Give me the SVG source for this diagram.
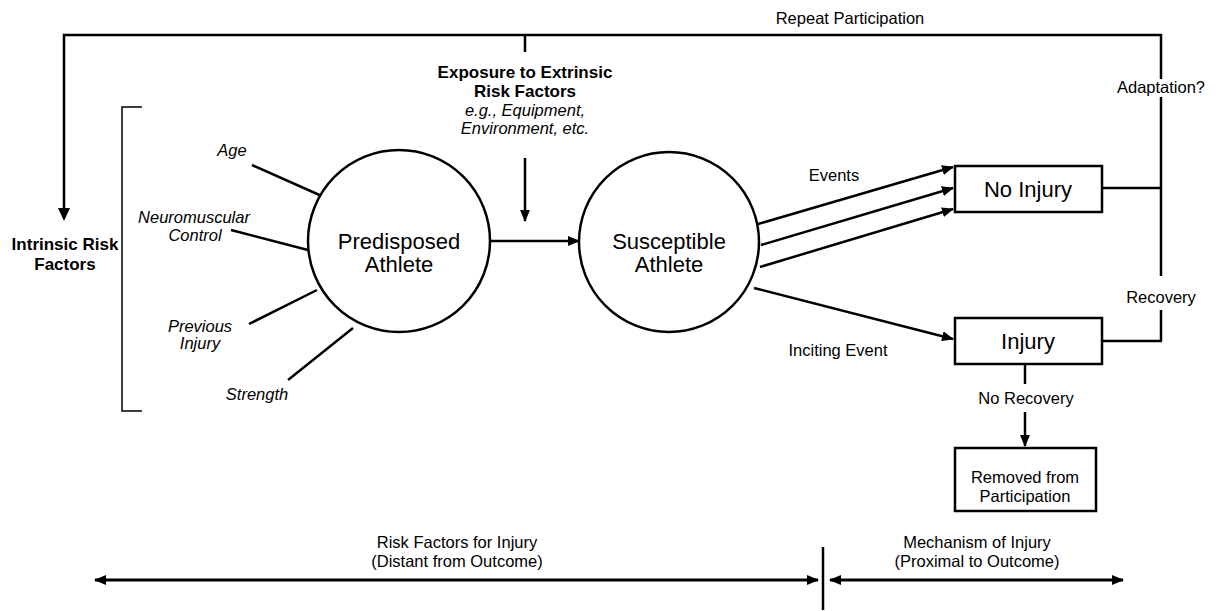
<svg xmlns="http://www.w3.org/2000/svg" width="1220" height="611" viewBox="0 0 1220 611">
  <style>
    text { font-family: "Liberation Sans", Arial, sans-serif; fill: #000; text-anchor: middle; }
    .lbl { font-size: 16.5px; }
    .it { font-size: 16.5px; font-style: italic; }
    .b { font-size: 17px; font-weight: bold; }
    .big { font-size: 22px; }
    .node { fill: #fff; stroke: #000; stroke-width: 2.5; }
    .ln { fill: none; stroke: #000; stroke-width: 2.5; }
    .thin { fill: none; stroke: #000; stroke-width: 1.5; }
    .arr { fill: none; stroke: #000; stroke-width: 2.5; marker-end: url(#ah); }
    .dbl { fill: none; stroke: #000; stroke-width: 3; marker-start: url(#ahs); marker-end: url(#ah); }
  </style>
  <defs>
    <marker id="ah" viewBox="0 0 12 10" refX="11" refY="5" markerWidth="12" markerHeight="10" markerUnits="userSpaceOnUse" orient="auto">
      <path d="M0,0 L12,5 L0,10 Z" fill="#000"/>
    </marker>
    <marker id="ahs" viewBox="0 0 12 10" refX="1" refY="5" markerWidth="12" markerHeight="10" markerUnits="userSpaceOnUse" orient="auto">
      <path d="M12,0 L0,5 L12,10 Z" fill="#000"/>
    </marker>
  </defs>

  <rect width="1220" height="611" fill="#fff"/>

  <!-- connectors -->
  <g id="connectors">
    <!-- repeat participation loop -->
    <path class="ln" d="M1161,79 V35 H64 V208"/>
    <path d="M58,208 L70,208 L64,221 Z" fill="#000"/>
    <line class="ln" x1="1161" y1="97" x2="1161" y2="276"/>
    <line class="ln" x1="1161" y1="310" x2="1161" y2="341"/>
    <line class="ln" x1="1102" y1="341" x2="1162" y2="341"/>
    <line class="ln" x1="1102" y1="188" x2="1161" y2="188"/>
    <!-- extrinsic exposure -->
    <line class="ln" x1="525" y1="35" x2="525" y2="52"/>
    <line class="arr" x1="525" y1="158" x2="525" y2="221"/>
    <!-- predisposed to susceptible -->
    <line class="arr" x1="490" y1="241" x2="579" y2="241"/>
    <!-- events -->
    <line class="arr" x1="758" y1="224" x2="953" y2="167"/>
    <line class="arr" x1="761" y1="245" x2="953" y2="188"/>
    <line class="arr" x1="760" y1="267" x2="953" y2="209"/>
    <!-- inciting event -->
    <line class="arr" x1="754" y1="288" x2="953" y2="339"/>
    <!-- no recovery -->
    <line class="ln" x1="1025" y1="363" x2="1025" y2="384"/>
    <line class="arr" x1="1025" y1="412" x2="1025" y2="446"/>
    <!-- intrinsic factor spokes -->
    <line class="ln" x1="252" y1="165" x2="324" y2="197"/>
    <line class="ln" x1="231" y1="230" x2="308" y2="250"/>
    <line class="ln" x1="249" y1="324" x2="317" y2="290"/>
    <line class="ln" x1="288" y1="380" x2="353" y2="328"/>
    <!-- bracket -->
    <path class="thin" d="M142,107 H122 V411 H142"/>
    <!-- timeline -->
    <line class="dbl" x1="95" y1="580" x2="818" y2="580"/>
    <line class="dbl" x1="830" y1="580" x2="1123" y2="580"/>
    <line class="ln" x1="823" y1="547" x2="823" y2="610"/>
  </g>

  <!-- nodes -->
  <g id="predisposed">
    <circle class="node" cx="399" cy="241" r="91"/>
    <text class="big" x="399" y="249">Predisposed</text>
    <text class="big" x="399" y="272">Athlete</text>
  </g>
  <g id="susceptible">
    <circle class="node" cx="669" cy="242" r="90"/>
    <text class="big" x="669" y="249">Susceptible</text>
    <text class="big" x="669" y="272">Athlete</text>
  </g>
  <g id="no-injury">
    <rect class="node" x="955" y="166" width="147" height="46"/>
    <text class="big" x="1028" y="197">No Injury</text>
  </g>
  <g id="injury">
    <rect class="node" x="955" y="318" width="147" height="46"/>
    <text class="big" x="1028" y="349">Injury</text>
  </g>
  <g id="removed">
    <rect class="node" x="955" y="448" width="141" height="63"/>
    <text class="lbl" x="1025" y="483">Removed from</text>
    <text class="lbl" x="1025" y="502">Participation</text>
  </g>
  <g id="extrinsic">
    <text class="b" x="525" y="78">Exposure to Extrinsic</text>
    <text class="b" x="525" y="97">Risk Factors</text>
    <text class="it" x="525" y="116">e.g., Equipment,</text>
    <text class="it" x="525" y="134">Environment, etc.</text>
  </g>
  <g id="intrinsic">
    <text class="b" x="65" y="250">Intrinsic Risk</text>
    <text class="b" x="65" y="270">Factors</text>
  </g>
  <g id="factors">
    <text class="it" x="232" y="156">Age</text>
    <text class="it" x="194" y="223">Neuromuscular</text>
    <text class="it" x="195" y="241">Control</text>
    <text class="it" x="200" y="332">Previous</text>
    <text class="it" x="200" y="349">Injury</text>
    <text class="it" x="257" y="400">Strength</text>
  </g>

  <!-- connector labels -->
  <g id="labels">
    <text class="lbl" x="850" y="24">Repeat Participation</text>
    <text class="lbl" x="1161" y="93">Adaptation?</text>
    <text class="lbl" x="1161" y="303">Recovery</text>
    <text class="lbl" x="834" y="181">Events</text>
    <text class="lbl" x="838" y="356">Inciting Event</text>
    <text class="lbl" x="1026" y="404">No Recovery</text>
    <text class="lbl" x="457" y="548">Risk Factors for Injury</text>
    <text class="lbl" x="457" y="567">(Distant from Outcome)</text>
    <text class="lbl" x="977" y="548">Mechanism of Injury</text>
    <text class="lbl" x="977" y="567">(Proximal to Outcome)</text>
  </g>
</svg>
